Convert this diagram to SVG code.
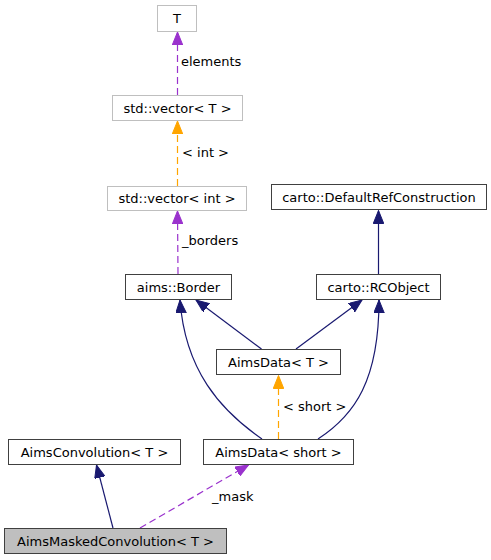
<svg xmlns="http://www.w3.org/2000/svg" width="491" height="560" viewBox="0 0 491 560">
<defs>
<style>
.box{fill:#ffffff;stroke:#404040;stroke-width:1}
.gbox{fill:#ffffff;stroke:#bfbfbf;stroke-width:1}
.cur{fill:#bfbfbf;stroke:#404040;stroke-width:1}
text{font-family:"DejaVu Sans","Liberation Sans",sans-serif;font-size:13px;fill:#000000}
.lbl{text-anchor:middle}
.inh{fill:none;stroke:#191970;stroke-width:1.2}
.use{fill:none;stroke:#9a32cd;stroke-width:1.2;stroke-dasharray:7,4}
.tpl{fill:none;stroke:#ffa500;stroke-width:1.2;stroke-dasharray:7,4}
</style>
<marker id="aNavy" markerUnits="userSpaceOnUse" markerWidth="14" markerHeight="11" refX="13" refY="5.25" orient="auto"><path d="M0,0 L13,5.25 L0,10.5 z" fill="#191970" stroke="#191970"/></marker>
<marker id="aPurple" markerUnits="userSpaceOnUse" markerWidth="14" markerHeight="11" refX="13" refY="5.25" orient="auto"><path d="M0,0 L13,5.25 L0,10.5 z" fill="#9a32cd" stroke="#9a32cd"/></marker>
<marker id="aOrange" markerUnits="userSpaceOnUse" markerWidth="14" markerHeight="11" refX="13" refY="5.25" orient="auto"><path d="M0,0 L13,5.25 L0,10.5 z" fill="#ffa500" stroke="#ffa500"/></marker>
</defs>
<g id="connectors">
<path class="use" d="M177.5,95 L177.5,32" marker-end="url(#aPurple)"/>
<text x="181" y="66">elements</text>
<path class="tpl" d="M177.5,186 L177.5,121" marker-end="url(#aOrange)"/>
<text x="182" y="157">&lt; int &gt;</text>
<path class="use" d="M178,274 L177.5,211" marker-end="url(#aPurple)"/>
<text x="182" y="245">_borders</text>
<path class="inh" d="M378.5,274 L378.5,210.5" marker-end="url(#aNavy)"/>
<path class="inh" d="M261.5,349 L196,300" marker-end="url(#aNavy)"/>
<path class="inh" d="M296,349 L362,300" marker-end="url(#aNavy)"/>
<path class="inh" d="M262,439 C220,410 185,370 180,300" marker-end="url(#aNavy)"/>
<path class="inh" d="M318,439 C355,415 379,380 379,300" marker-end="url(#aNavy)"/>
<path class="tpl" d="M278.5,439 L278.5,375.5" marker-end="url(#aOrange)"/>
<text x="283" y="411">&lt; short &gt;</text>
<path class="inh" d="M113,528 L96.5,465" marker-end="url(#aNavy)"/>
<path class="use" d="M140,528 L248.5,465" marker-end="url(#aPurple)"/>
<text x="212" y="501">_mask</text>
</g>
<g id="node_T"><rect class="gbox" x="157.5" y="5.5" width="39" height="26"/><text class="lbl" x="177" y="23">T</text></g>
<g id="node_vectorT"><rect class="gbox" x="112.5" y="95.5" width="130" height="25"/><text class="lbl" x="177.5" y="112.5">std::vector&lt; T &gt;</text></g>
<g id="node_vectorInt"><rect class="gbox" x="107.5" y="186.5" width="139" height="24"/><text class="lbl" x="177" y="203">std::vector&lt; int &gt;</text></g>
<g id="node_DefaultRef"><rect class="box" x="271.5" y="184.5" width="215" height="25"/><text class="lbl" x="379" y="201.5">carto::DefaultRefConstruction</text></g>
<g id="node_Border"><rect class="box" x="125.5" y="274.5" width="106" height="25"/><text class="lbl" x="178.5" y="291.5">aims::Border</text></g>
<g id="node_RCObject"><rect class="box" x="316.5" y="274.5" width="124" height="25"/><text class="lbl" x="378.5" y="291.5">carto::RCObject</text></g>
<g id="node_AimsDataT"><rect class="box" x="216.5" y="349.5" width="124" height="25"/><text class="lbl" x="278.5" y="366.5">AimsData&lt; T &gt;</text></g>
<g id="node_AimsConvolution"><rect class="box" x="8.5" y="439.5" width="172" height="25"/><text class="lbl" x="94.5" y="456.5">AimsConvolution&lt; T &gt;</text></g>
<g id="node_AimsDataShort"><rect class="box" x="203.5" y="439.5" width="150" height="25"/><text class="lbl" x="278.5" y="456.5">AimsData&lt; short &gt;</text></g>
<g id="node_AimsMaskedConvolution"><rect class="cur" x="4.5" y="528.5" width="222" height="25"/><text class="lbl" x="115.5" y="545.5">AimsMaskedConvolution&lt; T &gt;</text></g>
</svg>
